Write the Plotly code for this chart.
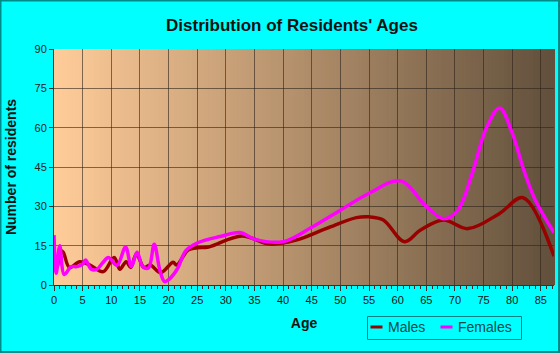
import plotly.graph_objects as go

# ---- data ----
female_ages = [0, 0.4, 1, 1.8, 3, 4, 5, 5.5, 6.5, 7.5, 8.5, 9.5, 11, 12.5, 13.5, 14.5,
               15.5, 16.5, 17.5, 18.5, 19.3, 20, 21.5, 23, 25, 29, 32.5, 35, 40, 45,
               50, 55, 60.5, 65, 68, 70.5, 73, 75.5, 77.8, 80, 82, 84, 87.3]
female_vals = [19, 4.5, 15, 4, 7, 7, 8, 9.5, 6, 6, 8.5, 10.5, 7.5, 14.5, 7, 12.5,
               7, 6.5, 15.5, 5.5, 1.3, 2, 6, 13, 16, 18.5, 20, 17.5, 16.5, 22,
               28.5, 35, 39.7, 30, 25.3, 28.5, 42.5, 60, 67.5, 58, 44, 32.5, 20]

male_ages = [0, 0.5, 1.2, 1.6, 2.7, 4.5, 6.3, 8.6, 10.5, 11.5, 12.6, 13.4, 14.4, 15.7,
             16.8, 18.6, 20.8, 21.4, 23.4, 25, 27, 32.8, 37.7, 42.4, 47.6, 52.8, 55,
             57.5, 61.2, 64, 68, 72.3, 77.8, 81.9, 87.3]
male_vals = [12.7, 6.7, 13, 12.5, 6.7, 8.9, 7.6, 5.1, 10.5, 6, 8.9, 6.7, 11.8, 6.7,
             7.6, 4.7, 8.7, 7.6, 13.3, 14.2, 14.5, 18.7, 15.6, 17.2, 21.6, 25.7, 26,
             24.8, 16.5, 21, 24.8, 21.5, 27.3, 33.3, 11]

x_ticks = [0, 5, 10, 15, 20, 25, 30, 35, 40, 45, 50, 55, 60, 65, 70, 75, 80, 85]
y_ticks = [0, 15, 30, 45, 60, 75, 90]

series_names = ["Males", "Females"]
series_colors = ["#990000", "#FF00FF"]

FONT = "Liberation Sans, Arial, sans-serif"

fig = go.Figure()
fig.add_trace(go.Scatter(x=male_ages, y=male_vals, mode="lines", name=series_names[0],
                         line=dict(color=series_colors[0], width=3.5, shape="spline", smoothing=1)))
fig.add_trace(go.Scatter(x=female_ages, y=female_vals, mode="lines", name=series_names[1],
                         line=dict(color=series_colors[1], width=3.5, shape="spline", smoothing=1)))

L, R, T, B = 54, 6, 49, 68
PW, PH = 560 - L - R, 353 - T - B


def px(x):
    return (x - L) / PW


def py(y):
    return (353 - B - y) / PH


# background gradient strips
shapes = []
N = 120
c0 = (255, 204, 153)
c1 = (98, 80, 60)
for i in range(N):
    t = i / (N - 1)
    c = tuple(round(c0[k] + (c1[k] - c0[k]) * t) for k in range(3))
    shapes.append(dict(type="rect", xref="paper", yref="paper",
                       x0=i / N, x1=(i + 1) / N + 0.002, y0=0, y1=1,
                       fillcolor="rgb(%d,%d,%d)" % c, line=dict(width=0), layer="below"))
# outer border
shapes.append(dict(type="rect", xref="paper", yref="paper",
                   x0=px(0.5), x1=px(559), y0=py(352), y1=py(0.5),
                   line=dict(color="#008B8B", width=2), layer="above"))

# manual legend
annotations = []
shapes.append(dict(type="rect", xref="paper", yref="paper",
                   x0=px(367.5), x1=px(521.5), y0=py(339.5), y1=py(316.5),
                   line=dict(color="#008080", width=1), fillcolor="#00FFFF", layer="above"))
leg_y = 327
for (lx0, tx), name, col in zip([(370.5, 386), (440.5, 456)], series_names, series_colors):
    shapes.append(dict(type="line", xref="paper", yref="paper",
                       x0=px(lx0), x1=px(lx0 + 12), y0=py(leg_y), y1=py(leg_y),
                       line=dict(color=col, width=3), layer="above"))
    annotations.append(dict(text=name, xref="paper", yref="paper", x=px(tx), y=py(leg_y),
                            xanchor="left", yanchor="middle", showarrow=False,
                            font=dict(family=FONT, size=14, color="#0E4A4A")))

grid = "rgba(45,35,25,0.6)"
fig.update_layout(
    width=560, height=353,
    margin=dict(l=L, r=R, t=T, b=B),
    paper_bgcolor="#00FFFF", plot_bgcolor="#FFCC99",
    shapes=shapes, annotations=annotations,
    title=dict(text="<b>Distribution of Residents' Ages</b>", x=px(292) * PW / 560 + L / 560,
               xanchor="center", y=1 - 25 / 353, yanchor="middle",
               font=dict(family=FONT, size=17, color="#111111")),
    xaxis=dict(range=[0, 87.3], tickvals=x_ticks, showgrid=True, gridcolor=grid, gridwidth=1,
               ticks="outside", ticklen=5, tickcolor="#333333", showline=True, linecolor="#333333",
               minor=dict(dtick=1, ticks="outside", ticklen=3, tickcolor="#333333", showgrid=False),
               tickfont=dict(family=FONT, size=11, color="#111111"), zeroline=False,
               title=dict(text="<b>Age</b>", font=dict(family=FONT, size=14, color="#111111"), standoff=12)),
    yaxis=dict(range=[0, 90], tickvals=y_ticks, showgrid=True, gridcolor=grid, gridwidth=1,
               ticks="outside", ticklen=4, tickcolor="#333333", showline=True, linecolor="#333333",
               tickfont=dict(family=FONT, size=11, color="#222222"), zeroline=False,
               title=dict(text="<b>Number of residents</b>", font=dict(family=FONT, size=14, color="#111111"), standoff=14)),
    showlegend=False,
)
fig.write_html("out.html")
